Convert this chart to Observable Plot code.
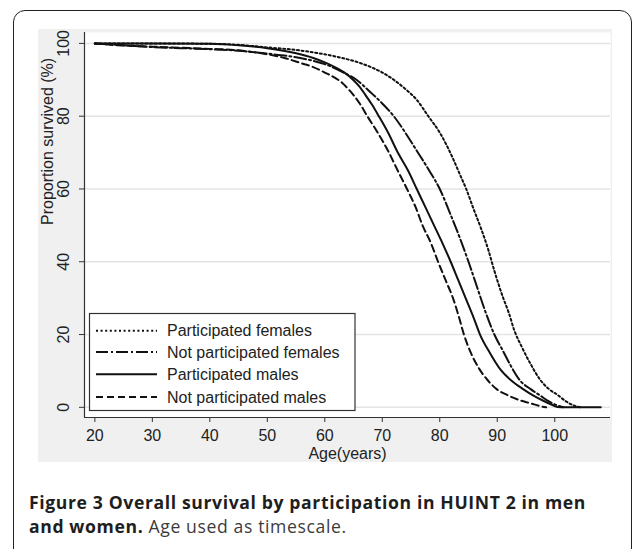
<!DOCTYPE html>
<html>
<head>
<meta charset="utf-8">
<script src="https://cdn.jsdelivr.net/npm/d3@7"></script>
<script src="https://cdn.jsdelivr.net/npm/@observablehq/plot@0.6"></script>
<style>
  html, body { margin: 0; padding: 0; background: #fff; }
  #wrap { position: relative; width: 632px; height: 549px; overflow: hidden; }
  #border { position: absolute; left: 13px; top: 10px; width: 619px; height: 620px;
            box-sizing: border-box; border: 1.8px solid #222; border-radius: 12px; }
  #panel { position: absolute; left: 38px; top: 29px; width: 574px; height: 433px; background: #f0f0f0; }
  #chart { position: absolute; left: 38px; top: 29px; }
  #legend { position: absolute; left: 0; top: 0; }
  .cap { position: absolute; left: 29px; font-family: "Open Sans", sans-serif; font-size: 16px;
         line-height: 24px; white-space: nowrap; color: #2a2a2a; }
  .cap b { font-weight: 700; color: #1e1e1e; }
  .cap span { font-weight: 400; color: #3c3c3c; }
</style>
</head>
<body>
<div id="wrap">
  <div id="border"></div>
  <div id="panel"></div>
  <div id="chart"></div>
  <svg id="legend" width="632" height="549"></svg>
  <div class="cap" id="cap1" style="top:491px"><b>Figure 3 Overall survival by participation in HUINT 2 in men</b></div>
  <div class="cap" id="cap2" style="top:515px"><b>and women.</b> <span>Age used as timescale.</span></div>
</div>
<script>
// ---- data ----
const seriesNames = ["Participated females", "Not participated females", "Participated males", "Not participated males"];

const pfAge = [20, 30, 40, 45, 50, 55, 60, 63, 66, 68, 70, 72, 74, 76, 78, 80, 81.2, 82.4, 83.5, 84.6, 86, 87.1, 88.5, 89.5, 91, 92, 93, 94.3, 95.8, 97.5, 99, 100.4, 102, 103.3, 104.5];
const pfVal = [100, 100, 99.9, 99.6, 98.9, 98.2, 97.0, 96.0, 94.7, 93.5, 92.0, 90.0, 87.5, 84.5, 80.0, 75.5, 72, 68, 64, 60, 54, 49.5, 43, 37.5, 30.2, 26, 21, 16.5, 11.9, 7.5, 5, 3.5, 1.6, 0.5, 0];

const npfAge = [20, 25, 30, 35, 40, 45, 50, 55, 58, 60, 63, 65.5, 68, 70, 72, 74, 76, 78, 80, 82, 83.5, 85, 86.5, 88, 89.5, 91, 92.5, 94, 95.8, 97.5, 99, 100.5, 101.5];
const npfVal = [100, 99.5, 99.0, 98.7, 98.4, 98.0, 97.2, 96.2, 95.2, 94.3, 92.2, 90.0, 86.5, 83.5, 80.0, 75.5, 70.5, 65.5, 60.0, 52.5, 46.5, 40, 33, 26, 20, 15.5, 11, 7.3, 5, 3.2, 1.6, 0.5, 0];

const pmAge = [20, 30, 40, 45, 50, 55, 58, 60, 62, 63.5, 65, 66, 67, 68.2, 69.4, 71, 72.7, 74.5, 76, 77.5, 79, 80.5, 81.9, 83.2, 84.5, 85.8, 87, 88.7, 90.5, 92.5, 94.5, 96.3, 98, 99.5, 100.5, 101.5, 108];
const pmVal = [100, 100, 99.9, 99.5, 98.7, 97.3, 96.0, 94.8, 93.3, 91.9, 89.9, 88.2, 86.0, 83.2, 80, 75.5, 70, 65, 60, 55, 50, 45, 40, 35, 30, 25, 20, 15, 10.5, 7.3, 5, 3.2, 1.8, 0.7, 0.1, 0, 0];

const npmAge = [20, 25, 30, 35, 40, 45, 50, 53, 56, 58, 60, 61.5, 63, 64, 65, 66.2, 67.4, 69, 71, 72.7, 74.3, 75.8, 77, 78.5, 79.7, 81, 82.3, 83.3, 84.2, 85.4, 86.9, 88.3, 89.9, 91.7, 93.8, 95.8, 97.5, 98.5];
const npmVal = [100, 99.4, 99.1, 98.8, 98.5, 98.1, 97.0, 96.0, 94.5, 93.5, 92.0, 90.8, 89.2, 87.6, 85.8, 83.2, 80, 76, 70.5, 65, 60, 55, 50, 45, 40, 35, 30, 25, 20, 15, 10.5, 7.5, 5, 3.4, 2.0, 1.1, 0.3, 0];

const xTicks = [20, 30, 40, 50, 60, 70, 80, 90, 100];
const yTicks = [0, 20, 40, 60, 80, 100];
const xLabel = "Age(years)";
const yLabel = "Proportion survived (%)";

// ---- styles ----
const dashes = ["2,2.6", "12,3,2,3", null, "7,4"];
const ages = [pfAge, npfAge, pmAge, npmAge];
const vals = [pfVal, npfVal, pmVal, npmVal];
const font = "'Liberation Sans', Arial, sans-serif";

const lineMarks = seriesNames.map((name, i) =>
  Plot.line(ages[i].map((a, j) => ({age: a, v: vals[i][j]})), {
    x: "age", y: "v", stroke: "#111", strokeWidth: 2, curve: "monotone-x",
    strokeDasharray: dashes[i] || undefined, strokeLinejoin: "round"
  })
);

const plot = Plot.plot({
  width: 574, height: 433,
  marginLeft: 46, marginRight: 2, marginTop: 3, marginBottom: 45,
  style: {background: "transparent", fontFamily: font, fontSize: "16px", color: "#222", overflow: "visible"},
  x: {domain: [18.2, 109.7]},
  y: {domain: [-2.8, 103]},
  marks: [
    Plot.frame({fill: "white", stroke: null}),
    Plot.gridY(yTicks, {stroke: "#e4e4e4", strokeOpacity: 1, strokeWidth: 1.5}),
    ...lineMarks,
    Plot.ruleY([-2.8], {stroke: "#333", strokeWidth: 1.2}),
    Plot.ruleX([18.2], {stroke: "#333", strokeWidth: 1.2}),
    Plot.axisX({ticks: xTicks, tickSize: 5, tickPadding: 7, fontSize: 16, label: null, stroke: "#333"}),
    Plot.axisY({ticks: yTicks, tickSize: 5, tickFormat: () => "", label: null, stroke: "#333"}),
    Plot.text(yTicks, {y: d => d, text: d => String(d), frameAnchor: "left", dx: -21, rotate: -90,
      fontSize: 16, textAnchor: "middle", lineAnchor: "middle", fill: "#222"}),
    Plot.text([xLabel], {frameAnchor: "bottom", dy: 36, fontSize: 16, lineAnchor: "middle", fill: "#222"}),
    Plot.text([yLabel], {frameAnchor: "left", dx: -37, rotate: -90, fontSize: 16, lineAnchor: "middle", fill: "#222"})
  ]
});
document.getElementById("chart").appendChild(plot);

// ---- legend (page coordinates) ----
const lg = d3.select("#legend");
lg.append("rect").attr("x", 89.5).attr("y", 313.5).attr("width", 265.5).attr("height", 97)
  .attr("fill", "white").attr("stroke", "#333").attr("stroke-width", 1.2);
const rowY = [330.7, 352, 374.3, 397];
seriesNames.forEach((name, i) => {
  lg.append("line").attr("x1", 96).attr("x2", 157).attr("y1", rowY[i]).attr("y2", rowY[i])
    .attr("stroke", "#111").attr("stroke-width", 2)
    .attr("stroke-dasharray", dashes[i] || null);
  lg.append("text").attr("x", 167).attr("y", rowY[i] + 5.5)
    .attr("font-family", font).attr("font-size", 16).attr("fill", "#222").text(name);
});

// fit caption line 1 width to the reference (~557px) by font size
const c1 = document.querySelector("#cap1 b");
const w = c1.getBoundingClientRect().width;
let fs = Math.min(17.6, 16 * 557 / w);
const cap1 = document.getElementById("cap1"), cap2 = document.getElementById("cap2");
[cap1, cap2].forEach(el => el.style.fontSize = fs + "px");
const w2 = c1.getBoundingClientRect().width;
const ls = (557 - w2) / c1.textContent.length;
[cap1, cap2].forEach(el => el.style.letterSpacing = ls + "px");
const off = 12 + 0.388 * fs;
cap1.style.top = (509.3 - off) + "px";
cap2.style.top = (533.3 - off) + "px";
</script>
</body>
</html>
